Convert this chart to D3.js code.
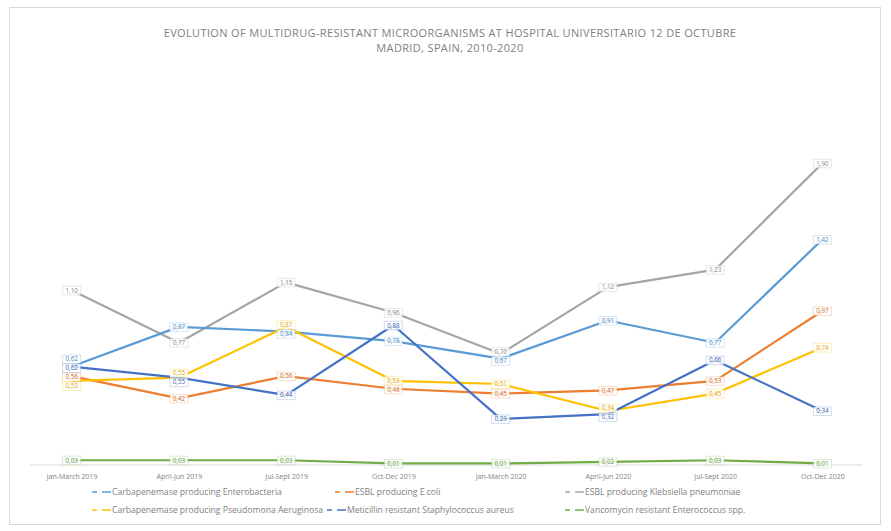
<!DOCTYPE html>
<html><head><meta charset="utf-8">
<script src="https://cdn.jsdelivr.net/npm/d3@7"></script>
<style>body{margin:0;background:#fff;font-family:"Open Sans",Calibri,Arial,sans-serif;}</style>
</head><body><svg id="c" width="891" height="531"></svg>
<script>
const categories = ["Jan-March 2019","April-Jun 2019","Jul-Sept 2019","Oct-Dec 2019","Jan-March 2020","April-Jun 2020","Jul-Sept 2020","Oct-Dec 2020"];
const seriesNames = ["Carbapenemase producing Enterobacteria","ESBL producing E.coli","ESBL producing Klebsiella pneumoniae","Carbapenemase producing Pseudomona Aeruginosa","Meticillin resistant Staphylococcus aureus","Vancomycin resistant Enterococcus spp."];
const enterobacteria = [0.62, 0.87, 0.84, 0.78, 0.67, 0.91, 0.77, 1.42];
const ecoli = [0.56, 0.42, 0.56, 0.48, 0.45, 0.47, 0.53, 0.97];
const klebsiella = [1.10, 0.77, 1.15, 0.96, 0.70, 1.12, 1.23, 1.90];
const pseudomona = [0.53, 0.55, 0.87, 0.53, 0.51, 0.34, 0.45, 0.74];
const mrsa = [0.62, 0.55, 0.44, 0.88, 0.29, 0.32, 0.66, 0.34];
const vre = [0.03, 0.03, 0.03, 0.01, 0.01, 0.02, 0.03, 0.01];
const colors = ["#5b9bd5","#ed7d31","#a5a5a5","#ffc000","#4472c4","#70ad47"];
const titleLines = ["EVOLUTION OF MULTIDRUG-RESISTANT MICROORGANISMS AT HOSPITAL UNIVERSITARIO 12 DE OCTUBRE","MADRID, SPAIN, 2010-2020"];

const allSeries = [enterobacteria, ecoli, klebsiella, pseudomona, mrsa, vre];
const svg = d3.select("#c");
svg.append("rect").attr("x",9.5).attr("y",7.5).attr("width",871).attr("height",517).attr("fill","#fff").attr("stroke","#d9d9d9");

svg.selectAll("text.title").data(titleLines).join("text")
  .attr("x",450).attr("y",(d,i)=>37+i*15).attr("text-anchor","middle")
  .attr("fill","#7f7f7f").attr("font-size","11px").attr("letter-spacing","0.35px").text(d=>d);

const x = d3.scalePoint().domain(categories).range([18,876]).padding(0.5);
const y = d3.scaleLinear().domain([0,2]).range([465,147.4]);

const xAxis = svg.append("g").attr("transform","translate(0,465)")
  .call(d3.axisBottom(x).tickSize(0).tickPadding(9));
xAxis.select(".domain").attr("stroke","#d9d9d9").attr("d","M30,0H862");
xAxis.selectAll("text").attr("fill","#7f7f7f").attr("font-size","7px").attr("font-family","Open Sans, Arial, sans-serif");

const line = d3.line().x((d,i)=>x(categories[i])).y(d=>y(d));
const fmt = v => v.toFixed(2).replace(".", ",");

const order = [5,2,0,1,3,4];
order.forEach(k=>{
  svg.append("path").datum(allSeries[k]).attr("d",line).attr("fill","none")
    .attr("stroke",colors[k]).attr("stroke-width",2.2).attr("stroke-linejoin","round");
});

// label layout: per category, spread labels vertically so they do not overlap
const labels = [];
categories.forEach((c,i)=>{
  const items = order.map(k=>({k, v:allSeries[k][i], cx:x(c), cy:y(allSeries[k][i])}));
  items.sort((a,b)=>a.cy-b.cy);
  items.forEach(it=>it.ly=it.cy);
  for(let iter=0;iter<20;iter++){
    for(let j=1;j<items.length;j++){
      const gap = items[j].ly-items[j-1].ly;
      if(gap<9){const d=(9-gap)/2; items[j].ly+=d; items[j-1].ly-=d;}
    }
  }
  labels.push(...items);
});
const lg = svg.append("g");
labels.forEach(it=>{
  lg.append("rect").attr("x",it.cx-9).attr("y",it.ly-4).attr("width",18).attr("height",8.5)
    .attr("fill","#fff").attr("fill-opacity",0.85).attr("stroke",colors[it.k]).attr("stroke-opacity",0.25);
  lg.append("text").attr("x",it.cx).attr("y",it.ly+2.3).attr("text-anchor","middle")
    .attr("font-size","6.3px").attr("fill",d3.color(colors[it.k]).darker(0.4)).text(fmt(it.v));
});

// legend
const legendPos = [[92,492],[335,492],[565,492],[92,510],[327,510],[565,510]];
seriesNames.forEach((n,k)=>{
  const [lx,ly] = legendPos[k];
  const g = svg.append("g");
  g.append("line").attr("x1",lx).attr("x2",lx+5).attr("y1",ly).attr("y2",ly).attr("stroke",colors[k]).attr("stroke-width",1.5);
  g.append("line").attr("x1",lx+10).attr("x2",lx+19).attr("y1",ly).attr("y2",ly).attr("stroke",colors[k]).attr("stroke-width",1.5);
  g.append("text").attr("x",lx+20).attr("y",ly+3).attr("font-size","8.6px").attr("fill","#7f7f7f").text(n);
});
</script></body></html>
